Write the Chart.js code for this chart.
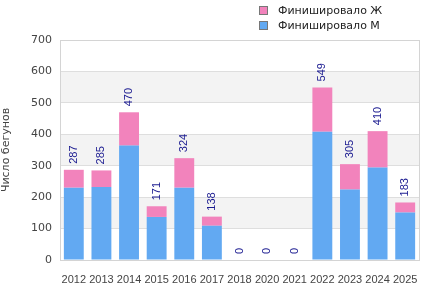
<!DOCTYPE html>
<html>
<head>
<meta charset="utf-8">
<script src="https://cdn.jsdelivr.net/npm/chart.js@4"></script>
<style>
  body { margin: 0; background: #fff; font-family: "DejaVu Sans", sans-serif; }
  #wrap { position: relative; width: 429px; height: 300px; }
  #legend { position: absolute; left: 259px; top: 3px; font-size: 11px; color: #222; }
  .item { height: 15px; line-height: 15px; white-space: nowrap; }
  .box { display: inline-block; width: 7px; height: 7px; border: 1px solid #777; margin-right: 10px; vertical-align: -1px; }
</style>
</head>
<body>
<div id="wrap">
  <canvas id="chart" width="429" height="300"></canvas>
  <div id="legend"></div>
</div>
<script>
const years = ["2012","2013","2014","2015","2016","2017","2018","2020","2021","2022","2023","2024","2025"];
const totals = [287, 285, 470, 171, 324, 138, 0, 0, 0, 549, 305, 410, 183];
const men    = [230, 232, 364, 137, 230, 109, 0, 0, 0, 408, 224, 294, 151];
const women  = totals.map((t, i) => t - men[i]);

const blue = "#62a9f2";
const pink = "#f283bc";

// legend, female row first like the original
const legend = document.getElementById("legend");
[["Финишировало Ж", pink], ["Финишировало М", blue]].forEach(([name, col]) => {
  legend.innerHTML += `<div class="item"><span class="box" style="background:${col}"></span>${name}</div>`;
});

// alternating grey bands and frame round the plot
const bands = {
  id: "bands",
  beforeDraw(chart) {
    const { ctx, chartArea: a, scales: { y } } = chart;
    ctx.save();
    ctx.fillStyle = "#f3f3f3";
    for (let v = 100; v < 700; v += 200) {
      const top = y.getPixelForValue(v + 100), bot = y.getPixelForValue(v);
      ctx.fillRect(a.left, top, a.right - a.left, bot - top);
    }
    ctx.restore();
  },
  afterDraw(chart) {
    const { ctx, chartArea: a } = chart;
    ctx.save();
    ctx.strokeStyle = "#d4d4d4";
    ctx.lineWidth = 1;
    ctx.strokeRect(Math.round(a.left) + 0.5, Math.round(a.top) + 0.5, Math.round(a.right - a.left), Math.round(a.bottom - a.top));
    ctx.restore();
  }
};

// totals written vertically over each stack
const totalLabels = {
  id: "totalLabels",
  afterDatasetsDraw(chart) {
    const { ctx, scales: { x, y } } = chart;
    ctx.save();
    ctx.font = "11px 'Liberation Sans', sans-serif";
    ctx.fillStyle = "#1a1a90";
    ctx.textAlign = "left";
    ctx.textBaseline = "middle";
    totals.forEach((t, i) => {
      ctx.save();
      ctx.translate(x.getPixelForValue(i), y.getPixelForValue(t) - 6);
      ctx.rotate(-Math.PI / 2);
      ctx.fillText(String(t), 0, 0);
      ctx.restore();
    });
    ctx.restore();
  }
};

new Chart(document.getElementById("chart"), {
  type: "bar",
  data: {
    labels: years,
    datasets: [
      { label: "Финишировало М", data: men, backgroundColor: blue },
      { label: "Финишировало Ж", data: women, backgroundColor: pink }
    ]
  },
  options: {
    responsive: false,
    animation: false,
    layout: { padding: { top: 40, right: 10, left: 0, bottom: 0 } },
    plugins: { legend: { display: false }, tooltip: { enabled: false } },
    datasets: { bar: { categoryPercentage: 0.8, barPercentage: 0.9 } },
    scales: {
      x: {
        stacked: true,
        grid: { display: false },
        border: { color: "#d4d4d4" },
        ticks: { color: "#444", font: { size: 11, family: "Liberation Sans" }, maxRotation: 0, autoSkip: false, padding: 5 },
        afterFit: s => { s.height = 40; }
      },
      y: {
        stacked: true,
        min: 0, max: 700,
        ticks: { stepSize: 100, color: "#444", font: { size: 11, family: "DejaVu Sans" }, padding: 8 },
        grid: { color: "#dedede", drawTicks: false },
        border: { color: "#d4d4d4" },
        title: { display: true, text: "Число бегунов", color: "#444", font: { size: 11, family: "DejaVu Sans" }, padding: 0 },
        afterFit: s => { s.width = 60; }
      }
    }
  },
  plugins: [bands, totalLabels]
});
</script>
</body>
</html>
